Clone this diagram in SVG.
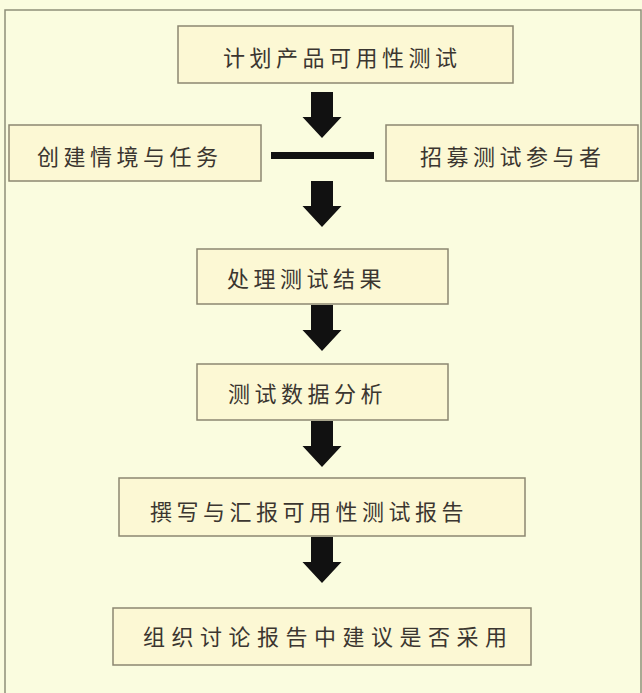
<svg xmlns="http://www.w3.org/2000/svg" width="642" height="693" viewBox="0 0 642 693">
<defs>
<style>
.box{fill:#fcf8d4;stroke:#8c8772;stroke-width:1.5}
.t{font-family:"Noto Sans CJK SC","Noto Sans CJK JP",sans-serif;font-size:22px;fill:#3b3630;letter-spacing:4.5px;dominant-baseline:central}
.arrow{fill:#111}
</style>
<path id="arr" d="M-11 0H11V25H19.5L0 46L-19.5 25H-11Z"/>
</defs>
<rect x="0" y="0" width="642" height="693" fill="#fafcdf"/>
<rect x="5" y="10" width="636" height="690" fill="none" stroke="#8e8e7a" stroke-width="1.5"/>
<g id="n1"><rect class="box" x="178" y="26" width="335" height="57"/><text class="t" x="223" y="56">计划产品可用性测试</text></g>
<g id="n2"><rect class="box" x="9" y="125" width="252" height="56"/><text class="t" x="37" y="155">创建情境与任务</text></g>
<g id="n3"><rect class="box" x="386" y="125" width="252" height="56"/><text class="t" x="420" y="155">招募测试参与者</text></g>
<g id="n4"><rect class="box" x="197" y="249" width="251" height="55"/><text class="t" x="227" y="277">处理测试结果</text></g>
<g id="n5"><rect class="box" x="197" y="364" width="251" height="56"/><text class="t" x="228" y="392">测试数据分析</text></g>
<g id="n6"><rect class="box" x="119" y="478" width="406" height="58"/><text class="t" x="150" y="510">撰写与汇报可用性测试报告</text></g>
<g id="n7"><rect class="box" x="113" y="608" width="418" height="57"/><text class="t" x="143" y="635" style="letter-spacing:6.5px">组织讨论报告中建议是否采用</text></g>
<g id="connectors" class="arrow">
<use href="#arr" transform="translate(322,92)"/>
<rect x="271" y="152" width="103" height="7"/>
<use href="#arr" transform="translate(322,181)"/>
<use href="#arr" transform="translate(322,305)"/>
<use href="#arr" transform="translate(322,421)"/>
<use href="#arr" transform="translate(322,537)"/>
</g>
</svg>
